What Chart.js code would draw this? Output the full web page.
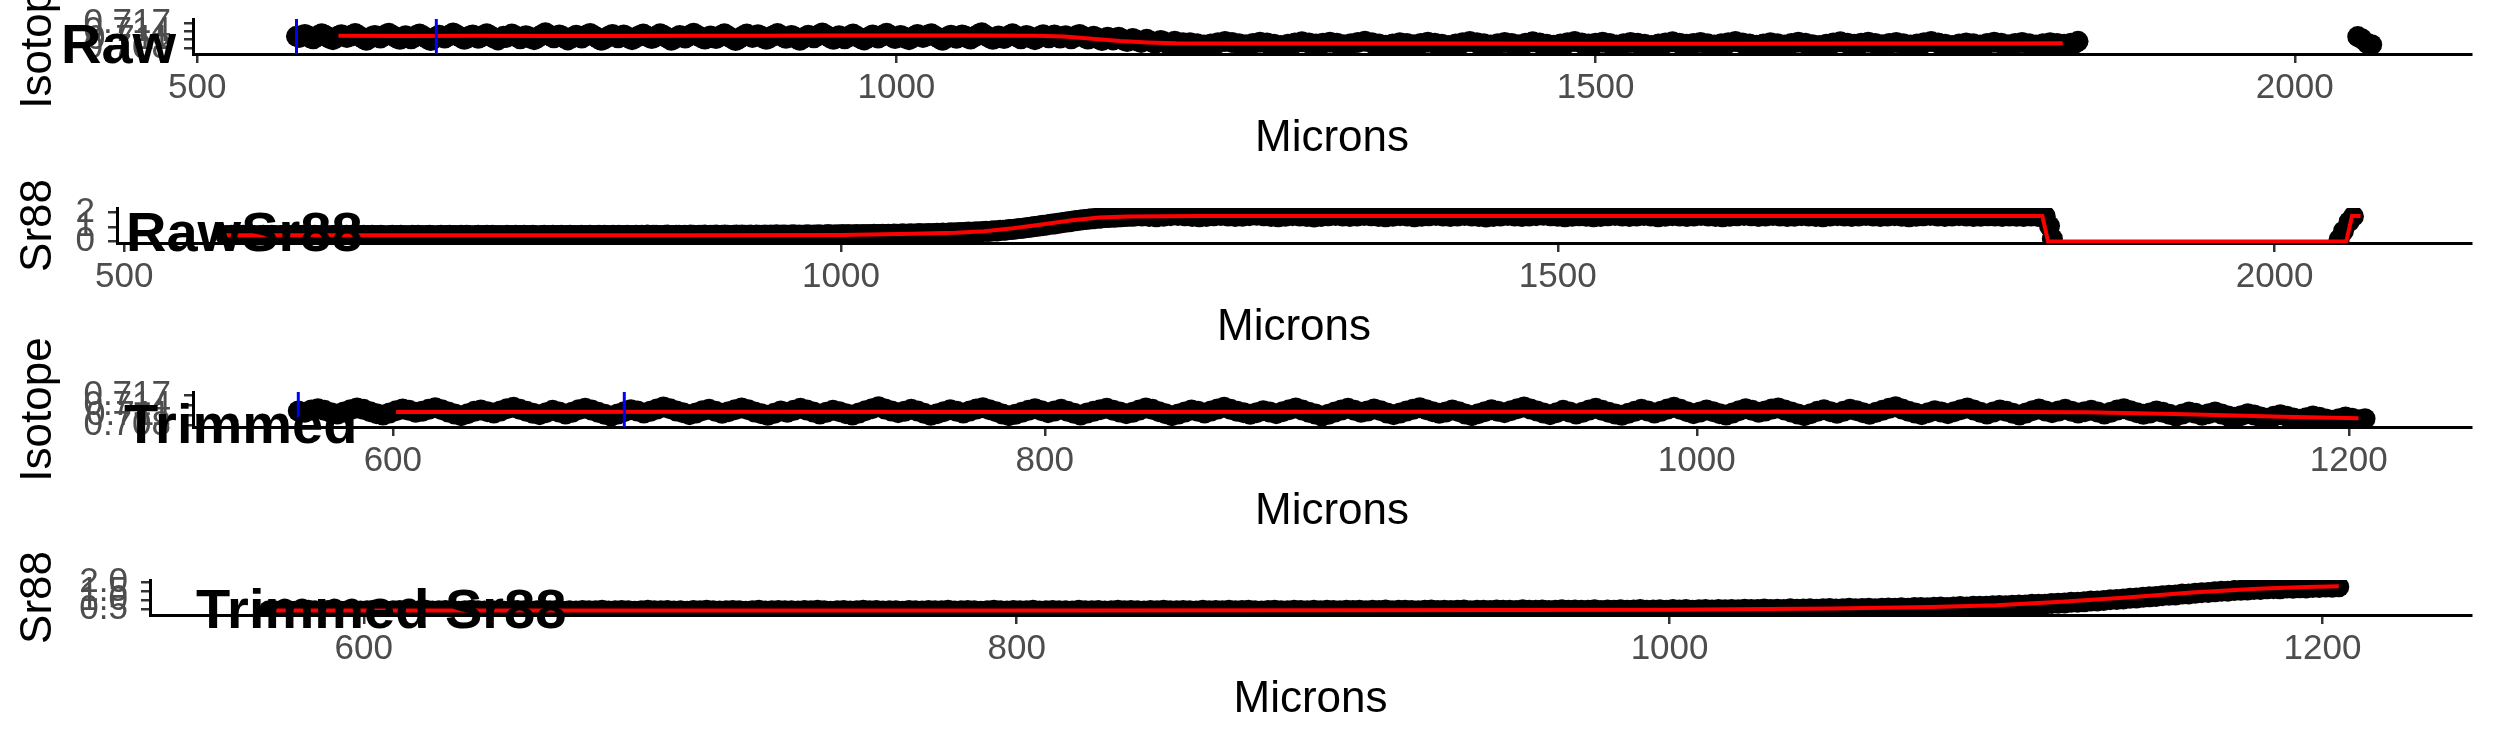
<!DOCTYPE html>
<html>
<head>
<meta charset="utf-8">
<script src="https://cdn.jsdelivr.net/npm/chart.js@4.4.1/dist/chart.umd.min.js"></script>
<style>
  html, body { margin: 0; padding: 0; background: #fff; }
  #wrap { position: relative; width: 2495px; height: 749px; overflow: hidden; background: #fff; }
  #wrap canvas { position: absolute; left: 0; top: 0; }
</style>
</head>
<body>
<div id="wrap">
  <canvas id="rawIso" width="2495" height="749"></canvas>
  <canvas id="rawSr" width="2495" height="749"></canvas>
  <canvas id="trimIso" width="2495" height="749"></canvas>
  <canvas id="trimSr" width="2495" height="749"></canvas>
</div>
<script>
// trimmed window: one reading every 2 microns, 571 -> 1205
const trimStart = 571, trimStep = 2;
const trimIsotope = [
  0.7122, 0.7118, 0.7125, 0.7129, 0.7124, 0.7117, 0.7113, 0.7119, 0.7126, 0.7131, 0.7127, 0.7120, 0.7114, 0.7110, 0.7116, 0.7123, 0.7128, 0.7124, 0.7118, 0.7121,
  0.7127, 0.7132, 0.7126, 0.7119, 0.7113, 0.7108, 0.7114, 0.7121, 0.7125, 0.7120, 0.7116, 0.7122, 0.7129, 0.7133, 0.7127, 0.7121, 0.7115, 0.7111, 0.7117, 0.7124,
  0.7119, 0.7113, 0.7118, 0.7126, 0.7130, 0.7125, 0.7118, 0.7112, 0.7107, 0.7113, 0.7120, 0.7126, 0.7122, 0.7116, 0.7121, 0.7128, 0.7134, 0.7129, 0.7122, 0.7117,
  0.7111, 0.7116, 0.7123, 0.7127, 0.7121, 0.7115, 0.7120, 0.7126, 0.7131, 0.7126, 0.7119, 0.7114, 0.7109, 0.7115, 0.7122, 0.7118, 0.7124, 0.7130, 0.7125, 0.7119,
  0.7113, 0.7118, 0.7124, 0.7120, 0.7114, 0.7110, 0.7116, 0.7123, 0.7129, 0.7135, 0.7128, 0.7122, 0.7117, 0.7121, 0.7127, 0.7122, 0.7115, 0.7109, 0.7114, 0.7120,
  0.7126, 0.7121, 0.7116, 0.7122, 0.7128, 0.7132, 0.7126, 0.7120, 0.7113, 0.7108, 0.7112, 0.7118, 0.7124, 0.7129, 0.7123, 0.7117, 0.7122, 0.7127, 0.7121, 0.7115,
  0.7110, 0.7116, 0.7121, 0.7126, 0.7130, 0.7124, 0.7119, 0.7114, 0.7118, 0.7125, 0.7131, 0.7127, 0.7120, 0.7114, 0.7108, 0.7113, 0.7119, 0.7125, 0.7121, 0.7116,
  0.7122, 0.7128, 0.7133, 0.7127, 0.7121, 0.7117, 0.7112, 0.7117, 0.7123, 0.7119, 0.7114, 0.7120, 0.7126, 0.7131, 0.7125, 0.7118, 0.7113, 0.7107, 0.7112, 0.7119,
  0.7125, 0.7130, 0.7124, 0.7118, 0.7122, 0.7128, 0.7123, 0.7116, 0.7111, 0.7116, 0.7122, 0.7127, 0.7132, 0.7126, 0.7120, 0.7115, 0.7119, 0.7125, 0.7120, 0.7113,
  0.7108, 0.7114, 0.7120, 0.7126, 0.7121, 0.7117, 0.7123, 0.7129, 0.7134, 0.7128, 0.7122, 0.7116, 0.7111, 0.7117, 0.7124, 0.7119, 0.7113, 0.7118, 0.7125, 0.7130,
  0.7124, 0.7118, 0.7113, 0.7109, 0.7115, 0.7121, 0.7127, 0.7122, 0.7116, 0.7121, 0.7128, 0.7133, 0.7127, 0.7120, 0.7114, 0.7119, 0.7125, 0.7120, 0.7114, 0.7110,
  0.7116, 0.7123, 0.7129, 0.7124, 0.7118, 0.7122, 0.7128, 0.7131, 0.7125, 0.7119, 0.7113, 0.7108, 0.7114, 0.7121, 0.7126, 0.7120, 0.7115, 0.7121, 0.7127, 0.7123,
  0.7117, 0.7112, 0.7118, 0.7124, 0.7130, 0.7135, 0.7128, 0.7121, 0.7116, 0.7111, 0.7117, 0.7123, 0.7119, 0.7114, 0.7120, 0.7126, 0.7131, 0.7125, 0.7118, 0.7113,
  0.7119, 0.7125, 0.7121, 0.7115, 0.7110, 0.7116, 0.7123, 0.7128, 0.7122, 0.7117, 0.7122, 0.7127, 0.7121, 0.7116, 0.7120,
  0.7124, 0.7119, 0.7113, 0.7118, 0.7125, 0.7129, 0.7123, 0.7117, 0.7112, 0.7116,
  0.7122, 0.7118, 0.7112, 0.7107, 0.7113, 0.7119, 0.7115, 0.7109, 0.7114, 0.7119,
  0.7113, 0.7107, 0.7103, 0.7108, 0.7114, 0.7110, 0.7104, 0.7100, 0.7106, 0.7111,
  0.7106, 0.7101, 0.7097, 0.7102, 0.7107, 0.7103, 0.7098, 0.7094, 0.7099, 0.7104,
  0.7100, 0.7096, 0.7099
];
const trimSr88 = [
  0.41, 0.39, 0.42, 0.40, 0.38, 0.41, 0.43, 0.40, 0.39, 0.42, 0.41, 0.38, 0.40, 0.42, 0.39, 0.41, 0.43, 0.40, 0.38, 0.41,
  0.42, 0.40, 0.39, 0.41, 0.43, 0.39, 0.40, 0.42, 0.41, 0.38, 0.40, 0.43, 0.41, 0.39, 0.42, 0.40, 0.38, 0.41, 0.42, 0.40,
  0.39, 0.41, 0.43, 0.40, 0.42, 0.38, 0.41, 0.39, 0.42, 0.40, 0.41, 0.43, 0.39, 0.40, 0.42, 0.41, 0.38, 0.40, 0.43, 0.41,
  0.40, 0.42, 0.39, 0.41, 0.38, 0.42, 0.40, 0.43, 0.41, 0.39, 0.40, 0.42, 0.41, 0.38, 0.40, 0.43, 0.39, 0.41, 0.42, 0.40,
  0.41, 0.39, 0.42, 0.40, 0.43, 0.41, 0.38, 0.40, 0.42, 0.39, 0.41, 0.43, 0.40, 0.42, 0.39, 0.41, 0.40, 0.38, 0.42, 0.41,
  0.39, 0.42, 0.40, 0.41, 0.43, 0.39, 0.41, 0.42, 0.40, 0.38, 0.41, 0.43, 0.40, 0.39, 0.42, 0.41, 0.40, 0.43, 0.39, 0.41,
  0.42, 0.40, 0.41, 0.39, 0.43, 0.41, 0.40, 0.42, 0.39, 0.41, 0.43, 0.40, 0.42, 0.41, 0.39, 0.42, 0.40, 0.43, 0.41, 0.40,
  0.42, 0.41, 0.39, 0.43, 0.40, 0.42, 0.41, 0.44, 0.40, 0.42, 0.43, 0.41, 0.39, 0.42, 0.44, 0.41, 0.40, 0.43, 0.42, 0.41,
  0.43, 0.41, 0.44, 0.42, 0.40, 0.43, 0.42, 0.44, 0.41, 0.43, 0.42, 0.45, 0.41, 0.43, 0.44, 0.42, 0.40, 0.43, 0.45, 0.42,
  0.44, 0.42, 0.43, 0.45, 0.41, 0.44, 0.43, 0.42, 0.45, 0.43, 0.44, 0.42, 0.46, 0.43, 0.44, 0.45, 0.42, 0.44, 0.46, 0.43,
  0.45, 0.43, 0.44, 0.46, 0.42, 0.45, 0.44, 0.46, 0.43, 0.45, 0.47, 0.44, 0.45, 0.46, 0.44, 0.47,
  0.45, 0.47, 0.44, 0.46, 0.48, 0.45, 0.47, 0.46, 0.48, 0.46,
  0.49, 0.47, 0.48, 0.50, 0.47, 0.49, 0.48, 0.51, 0.49, 0.50,
  0.52, 0.49, 0.51, 0.53, 0.50, 0.52, 0.54, 0.51, 0.53, 0.55,
  0.52, 0.55, 0.56, 0.54, 0.57, 0.55, 0.58, 0.59, 0.57, 0.60,
  0.61, 0.59, 0.62, 0.64, 0.62, 0.65, 0.66, 0.65, 0.68, 0.69,
  0.68, 0.71, 0.73, 0.72, 0.76, 0.77, 0.77, 0.81, 0.82, 0.83,
  0.87, 0.88, 0.90, 0.94, 0.95, 0.98, 1.02, 1.03, 1.06, 1.10,
  1.11, 1.15, 1.18, 1.19, 1.24, 1.26, 1.28, 1.33, 1.34, 1.37,
  1.41, 1.42, 1.46, 1.48, 1.49, 1.53, 1.54, 1.55, 1.59, 1.58,
  1.62, 1.63, 1.62, 1.66, 1.65, 1.68, 1.67, 1.70, 1.69, 1.72,
  1.71, 1.73
];

// rest of the raw run: one reading every 5 microns, 1210 -> 1840
const restStart = 1210, restStep = 5;
const restIsotope = [
  0.7099, 0.7095, 0.7091, 0.7094, 0.7099, 0.7103, 0.7100, 0.7095, 0.7092, 0.7096, 0.7101, 0.7098, 0.7093, 0.7089, 0.7093, 0.7098, 0.7102, 0.7098, 0.7094, 0.7097,
  0.7101, 0.7097, 0.7092, 0.7095, 0.7100, 0.7104, 0.7099, 0.7094, 0.7090, 0.7094, 0.7099, 0.7096, 0.7092, 0.7096, 0.7101, 0.7097, 0.7093, 0.7089, 0.7094, 0.7099,
  0.7103, 0.7099, 0.7095, 0.7091, 0.7095, 0.7100, 0.7096, 0.7092, 0.7097, 0.7102, 0.7098, 0.7093, 0.7090, 0.7094, 0.7099, 0.7103, 0.7098, 0.7094, 0.7097, 0.7101,
  0.7096, 0.7091, 0.7095, 0.7100, 0.7097, 0.7093, 0.7089, 0.7094, 0.7098, 0.7102, 0.7097, 0.7093, 0.7096, 0.7100, 0.7095, 0.7091, 0.7095, 0.7099, 0.7103, 0.7098,
  0.7094, 0.7090, 0.7094, 0.7099, 0.7095, 0.7091, 0.7096, 0.7101, 0.7097, 0.7092, 0.7089, 0.7093, 0.7098, 0.7102, 0.7097, 0.7093, 0.7097, 0.7101, 0.7096, 0.7092,
  0.7096, 0.7100, 0.7095, 0.7091, 0.7094, 0.7099, 0.7103, 0.7098, 0.7093, 0.7089, 0.7094, 0.7098, 0.7095, 0.7091, 0.7096, 0.7101, 0.7097, 0.7092, 0.7096, 0.7100,
  0.7095, 0.7091, 0.7095, 0.7099, 0.7096, 0.7093, 0.7097
];
const restSr88 = [
  1.73, 1.70, 1.68, 1.71, 1.75, 1.77, 1.74, 1.70, 1.67, 1.70, 1.74, 1.76, 1.72, 1.69, 1.71, 1.75, 1.78, 1.74, 1.70, 1.68,
  1.71, 1.75, 1.73, 1.69, 1.66, 1.70, 1.74, 1.77, 1.73, 1.70, 1.72, 1.76, 1.74, 1.70, 1.67, 1.71, 1.75, 1.72, 1.68, 1.71,
  1.74, 1.77, 1.73, 1.69, 1.72, 1.76, 1.73, 1.69, 1.66, 1.70, 1.73, 1.76, 1.72, 1.69, 1.72, 1.75, 1.78, 1.74, 1.71, 1.68,
  1.71, 1.74, 1.71, 1.67, 1.70, 1.74, 1.77, 1.73, 1.70, 1.73, 1.76, 1.72, 1.68, 1.71, 1.75, 1.72, 1.69, 1.72, 1.76, 1.73,
  1.70, 1.67, 1.71, 1.74, 1.77, 1.74, 1.70, 1.73, 1.76, 1.72, 1.69, 1.71, 1.75, 1.73, 1.70, 1.68, 1.72, 1.75, 1.73, 1.70,
  1.73, 1.76, 1.72, 1.69, 1.72, 1.75, 1.71, 1.68, 1.71, 1.74, 1.77, 1.73, 1.70, 1.72, 1.75, 1.72, 1.69, 1.71, 1.74, 1.72,
  1.70, 1.73, 1.71, 1.69, 1.72, 1.70, 1.71
];

// last few readings of the raw run
const tailMicrons = [1843, 1845, 2045, 2048, 2052, 2055];
const tailIsotope = [0.7098, 0.7104, 0.7121, 0.7113, 0.7096, 0.7092];
const tailSr88 = [1.05, 0.20, 0.15, 0.70, 1.35, 1.70];

// red smoothed lines
const rawIsoLineX = [601, 650, 700, 750, 800, 850, 900, 950, 1000, 1050, 1100, 1120, 1140, 1160, 1180, 1200, 1250, 1300, 1400, 1500, 1600, 1700, 1800, 1834];
const rawIsoLineY = [0.7124, 0.7123, 0.7124, 0.7123, 0.7123, 0.7124, 0.7124, 0.7125, 0.7125, 0.7125, 0.7124, 0.7121, 0.7113, 0.7105, 0.7100, 0.7097, 0.7096, 0.7096, 0.7096, 0.7095, 0.7095, 0.7096, 0.7096, 0.7097];
const rawSrLineX = [571, 700, 800, 900, 1000, 1050, 1080, 1100, 1120, 1140, 1160, 1180, 1200, 1250, 1300, 1400, 1500, 1600, 1700, 1800, 1838, 1842, 2050, 2054, 2060];
const rawSrLineY = [0.42, 0.42, 0.42, 0.42, 0.45, 0.53, 0.60, 0.70, 0.90, 1.15, 1.42, 1.62, 1.70, 1.72, 1.72, 1.73, 1.72, 1.72, 1.72, 1.72, 1.72, 0.00, 0.00, 1.72, 1.72];
const trimIsoLineX = [601, 700, 800, 900, 1000, 1080, 1120, 1150, 1180, 1203];
const trimIsoLineY = [0.7119, 0.7120, 0.7119, 0.7120, 0.7120, 0.7120, 0.7118, 0.7112, 0.7105, 0.7100];
const trimSrLineX = [571, 700, 800, 900, 1000, 1050, 1080, 1100, 1120, 1140, 1160, 1180, 1195, 1205];
const trimSrLineY = [0.42, 0.42, 0.42, 0.43, 0.46, 0.53, 0.61, 0.71, 0.90, 1.14, 1.42, 1.63, 1.72, 1.76];

// blue markers
const blueMarks = [571, 671];

// ticks
const rawXTicks = [500, 1000, 1500, 2000];
const trimXTicks = [600, 800, 1000, 1200];
const isoTicks = [0.708, 0.711, 0.714, 0.717];
const isoTickLabels = ['0.708', '0.711', '0.714', '0.717'];
const rawSrTicks = [0, 1, 2];
const rawSrTickLabels = ['0', '1', '2'];
const trimSrTicks = [0.5, 1, 1.5, 2];
const trimSrTickLabels = ['0.5', '1.0', '1.5', '2.0'];

// build point tables
const trimMicrons = trimIsotope.map((_, i) => trimStart + i * trimStep);
const restMicrons = restIsotope.map((_, i) => restStart + i * restStep);
const rawMicrons = trimMicrons.concat(restMicrons, tailMicrons);
const rawIsotope = trimIsotope.concat(restIsotope, tailIsotope);
const rawSr88 = trimSr88.concat(restSr88, tailSr88);

const FONT = "'Liberation Sans', Arial, Helvetica, sans-serif";

function pts(xs, ys) {
  return xs.map((x, i) => ({ x: x, y: ys[i] }));
}

function drawPanel(p) {
  const datasets = [];
  (p.marks || []).forEach(m => {
    datasets.push({
      type: 'line',
      data: [{ x: m, y: p.yMin }, { x: m, y: p.yMax }],
      borderColor: '#0000FF', borderWidth: 3, pointRadius: 0, clip: 0, order: 1
    });
  });
  datasets.push({
    type: 'line',
    data: pts(p.lineX, p.lineY),
    borderColor: '#FF0000', borderWidth: 4, pointRadius: 0, tension: 0, clip: 0, order: 2
  });
  datasets.push({
    type: 'scatter',
    data: pts(p.x, p.y),
    backgroundColor: '#000000', borderColor: '#000000', borderWidth: 0,
    pointRadius: 10.5, clip: 0, order: 3
  });

  const titlePlugin = {
    id: 'panelTitle',
    afterDraw(chart) {
      const c = chart.ctx;
      c.save();
      c.font = 'bold 56px ' + FONT;
      c.fillStyle = '#000';
      c.textAlign = 'left';
      c.textBaseline = 'alphabetic';
      c.fillText(p.title, p.titleX, p.titleY);
      c.restore();
    }
  };

  new Chart(document.getElementById(p.id).getContext('2d'), {
    type: 'scatter',
    data: { datasets: datasets },
    options: {
      responsive: false,
      animation: false,
      devicePixelRatio: 1,
      events: [],
      layout: { padding: { top: p.top, bottom: 749 - p.bottom - 120, left: 0, right: 24 } },
      plugins: { legend: { display: false }, tooltip: { enabled: false } },
      scales: {
        x: {
          type: 'linear', min: p.xMin, max: p.xMax, z: 1,
          afterBuildTicks: s => { s.ticks = p.xTicks.map(v => ({ value: v })); },
          afterFit: s => { s.height = 120; s.paddingLeft = 0; s.paddingRight = 0; },
          ticks: {
            autoSkip: false, maxRotation: 0, padding: 8, color: '#4D4D4D',
            font: { family: FONT, size: 35, lineHeight: 1 },
            callback: v => String(v)
          },
          grid: { display: true, drawOnChartArea: false, drawTicks: true, tickLength: 9, color: '#333333', lineWidth: 2.5 },
          border: { display: true, color: '#000000', width: 3 },
          title: { display: true, text: 'Microns', color: '#000', font: { family: FONT, size: 44, lineHeight: 1 }, padding: { top: 0, bottom: 13 } }
        },
        y: {
          type: 'linear', min: p.yMin, max: p.yMax, z: 1,
          afterBuildTicks: s => { s.ticks = p.yTicks.map(v => ({ value: v })); },
          afterFit: s => { s.width = p.left; s.paddingTop = 0; s.paddingBottom = 0; },
          ticks: {
            autoSkip: false, padding: 13, color: '#4D4D4D',
            font: { family: FONT, size: 35, lineHeight: 1 },
            callback: v => p.yLabels[p.yTicks.indexOf(v)]
          },
          grid: { display: true, drawOnChartArea: false, drawTicks: true, tickLength: 9, color: '#333333', lineWidth: 2.5 },
          border: { display: true, color: '#000000', width: 3 },
          title: { display: true, text: p.yTitle, color: '#000', font: { family: FONT, size: 44, lineHeight: 1 }, padding: { top: 17, bottom: 0 } }
        }
      }
    },
    plugins: [titlePlugin]
  });
}

drawPanel({
  id: 'rawIso', title: 'Raw', titleX: 61, titleY: 63, yTitle: 'Isotope',
  top: 19, bottom: 54, left: 193,
  xMin: 497, xMax: 2126, xTicks: rawXTicks,
  yMin: 0.70583, yMax: 0.71844, yTicks: isoTicks, yLabels: isoTickLabels,
  x: rawMicrons, y: rawIsotope, lineX: rawIsoLineX, lineY: rawIsoLineY, marks: blueMarks
});
drawPanel({
  id: 'rawSr', title: 'RawSr88', titleX: 126, titleY: 251, yTitle: 'Sr88',
  top: 208, bottom: 243, left: 117,
  xMin: 495, xMax: 2137, xTicks: rawXTicks,
  yMin: -0.1, yMax: 2.27, yTicks: rawSrTicks, yLabels: rawSrTickLabels,
  x: rawMicrons, y: rawSr88, lineX: rawSrLineX, lineY: rawSrLineY
});
drawPanel({
  id: 'trimIso', title: 'Trimmed', titleX: 124, titleY: 443, yTitle: 'Isotope',
  top: 392, bottom: 427, left: 193,
  xMin: 538.7, xMax: 1237.5, xTicks: trimXTicks,
  yMin: 0.7074, yMax: 0.7179, yTicks: isoTicks, yLabels: isoTickLabels,
  x: trimMicrons, y: trimIsotope, lineX: trimIsoLineX, lineY: trimIsoLineY, marks: blueMarks
});
drawPanel({
  id: 'trimSr', title: 'Trimmed Sr88', titleX: 196, titleY: 628, yTitle: 'Sr88',
  top: 580, bottom: 615, left: 150,
  xMin: 534.5, xMax: 1245.5, xTicks: trimXTicks,
  yMin: 0.17, yMax: 2.11, yTicks: trimSrTicks, yLabels: trimSrTickLabels,
  x: trimMicrons, y: trimSr88, lineX: trimSrLineX, lineY: trimSrLineY
});
</script>
</body>
</html>
